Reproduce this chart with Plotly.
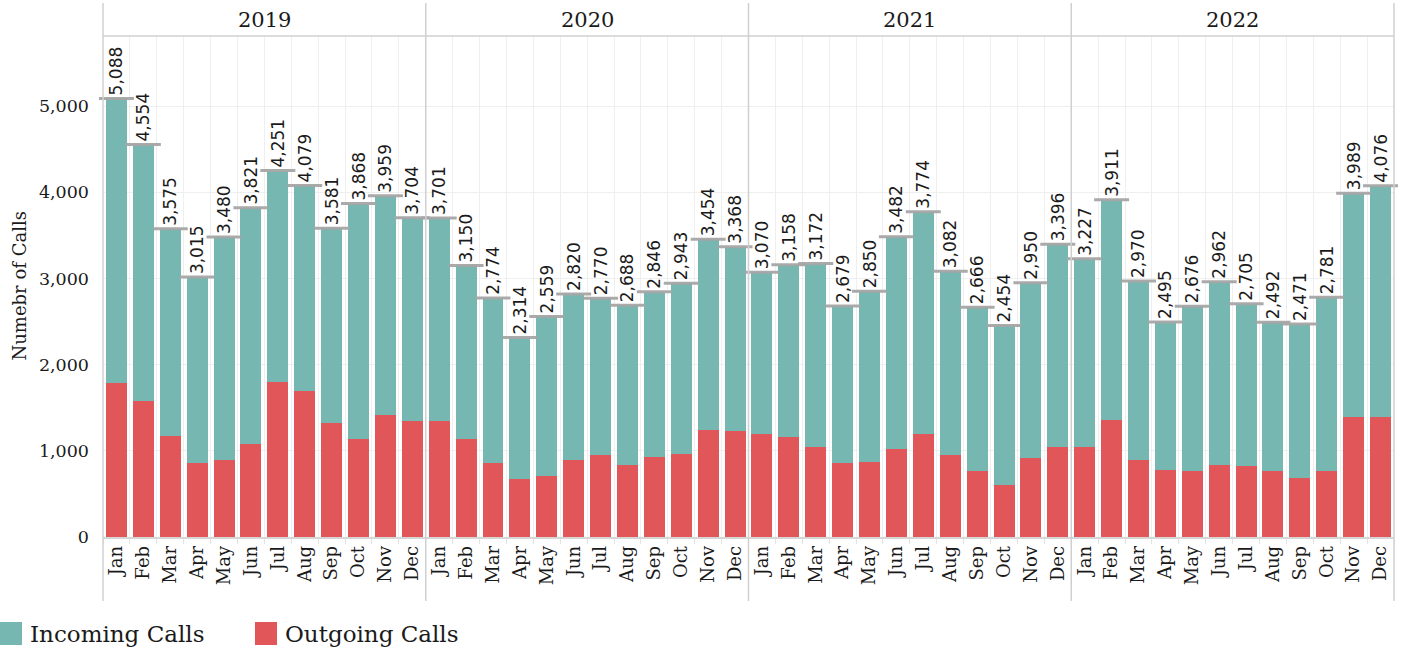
import plotly.graph_objects as go
from plotly.subplots import make_subplots

# ---- data -------------------------------------------------------------
years = ["2019", "2020", "2021", "2022"]
months = ["Jan", "Feb", "Mar", "Apr", "May", "Jun",
          "Jul", "Aug", "Sep", "Oct", "Nov", "Dec"]

total_calls = {
    "2019": [5088, 4554, 3575, 3015, 3480, 3821, 4251, 4079, 3581, 3868, 3959, 3704],
    "2020": [3701, 3150, 2774, 2314, 2559, 2820, 2770, 2688, 2846, 2943, 3454, 3368],
    "2021": [3070, 3158, 3172, 2679, 2850, 3482, 3774, 3082, 2666, 2454, 2950, 3396],
    "2022": [3227, 3911, 2970, 2495, 2676, 2962, 2705, 2492, 2471, 2781, 3989, 4076],
}
outgoing_calls = {
    "2019": [1790, 1581, 1175, 862, 897, 1082, 1802, 1697, 1326, 1141, 1419, 1350],
    "2020": [1340, 1139, 861, 676, 710, 896, 954, 838, 931, 965, 1243, 1232],
    "2021": [1197, 1162, 1046, 861, 873, 1023, 1197, 954, 768, 606, 919, 1046],
    "2022": [1046, 1359, 896, 780, 768, 838, 826, 768, 687, 768, 1394, 1394],
}
y_ticks = [0, 1000, 2000, 3000, 4000, 5000]

# ---- style ------------------------------------------------------------
W, H = 1402, 649
M_L, M_R, M_T, M_B = 103, 8, 36, 112
TEAL = "#76b7b2"
RED = "#e15759"
FRAME = "#d0d0d0"
GRID = "#efefef"
TXT = "#1a1a1a"
SERIF = "DejaVu Serif"
SANS = "DejaVu Sans"

plot_w = W - M_L - M_R
plot_h = H - M_T - M_B


def px_x(px):
    return (px - M_L) / plot_w


def px_y(py):
    return (H - M_B - py) / plot_h


fig = make_subplots(rows=1, cols=4, shared_yaxes=True, horizontal_spacing=0)

for i, yr in enumerate(years):
    col = i + 1
    tot = total_calls[yr]
    out = outgoing_calls[yr]
    inc = [t - o for t, o in zip(tot, out)]

    fig.add_trace(go.Bar(
        x=months, y=out, name="Outgoing Calls", marker_color=RED,
        marker_line_width=0, width=0.78, showlegend=False,
        hovertemplate="%{x} " + yr + "<br>Outgoing: %{y:,}<extra></extra>",
    ), row=1, col=col)

    fig.add_trace(go.Bar(
        x=months, y=inc, name="Incoming Calls", marker_color=TEAL,
        marker_line_width=0, width=0.78, showlegend=False,
        customdata=tot, texttemplate="%{customdata:,}",
        textposition="outside", textangle=-90, constraintext="none",
        cliponaxis=False,
        textfont=dict(family=SANS, size=17, color=TXT),
        hovertemplate="%{x} " + yr + "<br>Incoming: %{y:,}<extra></extra>",
    ), row=1, col=col)

    # grey cap marking each month's total
    fig.add_trace(go.Scatter(
        x=months, y=tot, mode="markers", showlegend=False, hoverinfo="skip",
        cliponaxis=False,
        marker=dict(symbol="line-ew", size=25,
                    line=dict(width=3, color="rgba(165,165,165,0.95)")),
    ), row=1, col=col)

    fig.update_xaxes(
        row=1, col=col, type="category", categoryorder="array",
        categoryarray=months, tickangle=-90, tickson="boundaries",
        ticks="outside", ticklen=5, tickcolor="#e3e3e3",
        showgrid=True, gridcolor=GRID, gridwidth=1,
        showline=True, linecolor="#d6d6d6", linewidth=1.5,
        tickfont=dict(family=SERIF, size=18, color=TXT),
        range=[-0.5, 11.5], fixedrange=True,
    )

    fig.add_annotation(
        x=(i + 0.5) / 4, y=px_y(20), xref="paper", yref="paper",
        text=yr, showarrow=False, xanchor="center", yanchor="middle",
        font=dict(family=SERIF, size=21, color=TXT),
    )

fig.update_yaxes(
    range=[0, plot_h / 86.2 * 1000], tickvals=y_ticks, tickformat=",",
    showgrid=True, gridcolor=GRID, gridwidth=1, zeroline=False,
    showline=False, ticks="", ticklabelstandoff=13,
    tickfont=dict(family=SERIF, size=17.5, color=TXT), fixedrange=True,
)

# panel frame: dividers, header rule
shapes = []
for k in range(5):
    shapes.append(dict(type="line", xref="paper", yref="paper",
                       x0=k / 4, x1=k / 4, y0=px_y(601), y1=px_y(3),
                       line=dict(color=FRAME, width=1.5), layer="above"))
shapes.append(dict(type="line", xref="paper", yref="paper",
                   x0=0, x1=1, y0=1, y1=1,
                   line=dict(color=FRAME, width=1.5), layer="above"))

# legend swatches
legend_items = [("Incoming Calls", TEAL, 0), ("Outgoing Calls", RED, 255)]
for label, colr, x0 in legend_items:
    shapes.append(dict(type="rect", xref="paper", yref="paper",
                       x0=px_x(x0), x1=px_x(x0 + 22),
                       y0=px_y(645), y1=px_y(622),
                       fillcolor=colr, line=dict(width=0)))
    fig.add_annotation(
        x=px_x(x0 + 28), y=px_y(634), xref="paper", yref="paper",
        text=label, showarrow=False, xanchor="left", yanchor="middle",
        font=dict(family=SERIF, size=23, color=TXT),
    )

fig.add_annotation(
    x=px_x(19), y=0.5, xref="paper", yref="paper",
    text="Numebr of Calls", textangle=-90, showarrow=False,
    xanchor="center", yanchor="middle",
    font=dict(family=SERIF, size=18, color=TXT),
)

fig.update_layout(
    width=W, height=H, barmode="stack", bargap=0.22,
    margin=dict(l=M_L, r=M_R, t=M_T, b=M_B, pad=0),
    plot_bgcolor="white", paper_bgcolor="white",
    showlegend=False, shapes=shapes,
    font=dict(family=SERIF, color=TXT),
)

fig.write_html("out.html")
